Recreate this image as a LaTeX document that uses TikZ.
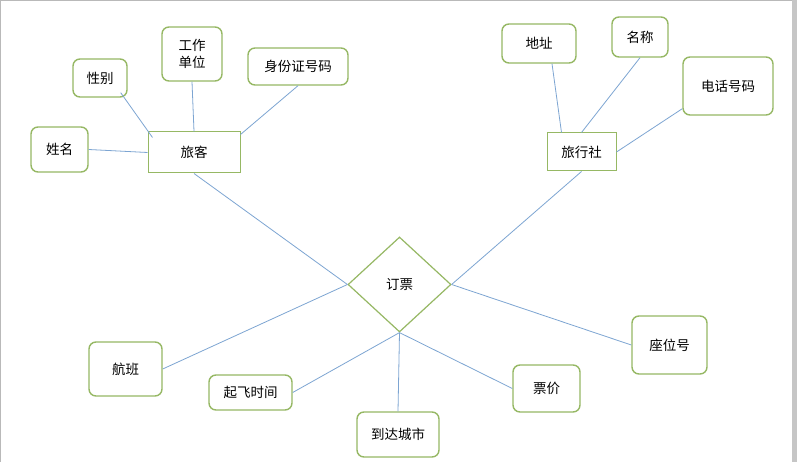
\documentclass[tikz,border=0pt]{standalone}
\usepackage{fontspec}
\newfontfamily\cjk{Noto Sans CJK SC}
\usetikzlibrary{shapes.geometric}
\definecolor{attrgreen}{RGB}{150,184,100}
\definecolor{linkblue}{RGB}{125,165,210}
\tikzset{
  attr/.style={draw=attrgreen, line width=1.4pt, rounded corners=7pt, inner sep=0pt, font=\cjk\fontsize{13.5}{17}\selectfont, align=center},
  ent/.style={draw=attrgreen, line width=1pt, inner sep=0pt, font=\cjk\fontsize{13.5}{17}\selectfont},
  rel/.style={draw=attrgreen, line width=1.2pt, diamond, inner sep=0pt, minimum width=103pt, minimum height=95pt, font=\cjk\fontsize{13.5}{17}\selectfont},
  link/.style={draw=linkblue, line width=0.8pt}
}
\begin{document}
\begin{tikzpicture}[x=1pt, y=-1pt]
\useasboundingbox (0,0) rectangle (797,462);
\fill [white] (0,0) rectangle (797,462);
\draw [gray!55, line width=1.2pt] (0.6,462) -- (0.6,0.6) -- (792,0.6);
\fill [gray!45] (792,0) rectangle (797,462);

\node [ent, minimum width=92pt, minimum height=41pt] (lvke) at (194,152.5) {旅客};
\node [ent, minimum width=69pt, minimum height=38pt] (lxs) at (581.5,152) {旅行社};
\node [rel] (dingpiao) at (399.5,284.5) {订票};

\node [attr, minimum width=57pt, minimum height=45pt] (xingming) at (59.5,149.5) {姓名};
\node [attr, minimum width=54pt, minimum height=38pt] (xingbie) at (100,78) {性别};
\node [attr, minimum width=60pt, minimum height=54pt] (gongzuo) at (192,54) {工作\\单位};
\node [attr, minimum width=100pt, minimum height=37pt] (shenfen) at (298,66.5) {身份证号码};
\node [attr, minimum width=74pt, minimum height=39pt] (dizhi) at (539,43.5) {地址};
\node [attr, minimum width=56pt, minimum height=40pt] (mingcheng) at (640,37) {名称};
\node [attr, minimum width=90pt, minimum height=58pt] (dianhua) at (728,86) {电话号码};
\node [attr, minimum width=73pt, minimum height=54pt] (hangban) at (125.5,369) {航班};
\node [attr, minimum width=83pt, minimum height=35pt] (qifei) at (250.5,392.5) {起飞时间};
\node [attr, minimum width=82pt, minimum height=45pt] (daoda) at (398,434.5) {到达城市};
\node [attr, minimum width=67pt, minimum height=47pt] (piaojia) at (546.5,388.5) {票价};
\node [attr, minimum width=75pt, minimum height=58pt] (zuowei) at (669.5,345) {座位号};

\draw [link] (xingming.east) -- (lvke.west);
\draw [link] ([xshift=-7pt, yshift=5pt]xingbie.south east) -- ([xshift=5pt, yshift=-6pt]lvke.north west);
\draw [link] (gongzuo.south) -- (lvke.north);
\draw [link] (shenfen.south) -- ([yshift=-3pt]lvke.north east);
\draw [link] (lvke.south) -- (dingpiao.west);

\draw [link] ([xshift=13pt]dizhi.south) -- ([xshift=-20pt]lxs.north);
\draw [link] (mingcheng.south) -- (lxs.north);
\draw [link] ([yshift=7pt]dianhua.south west) -- (lxs.east);
\draw [link] (lxs.south) -- (dingpiao.east);

\draw [link] (dingpiao.west) -- (hangban.east);
\draw [link] (dingpiao.south) -- (qifei.east);
\draw [link] (dingpiao.south) -- (daoda.north);
\draw [link] (dingpiao.south) -- (piaojia.west);
\draw [link] (dingpiao.east) -- (zuowei.west);
\end{tikzpicture}
\end{document}
